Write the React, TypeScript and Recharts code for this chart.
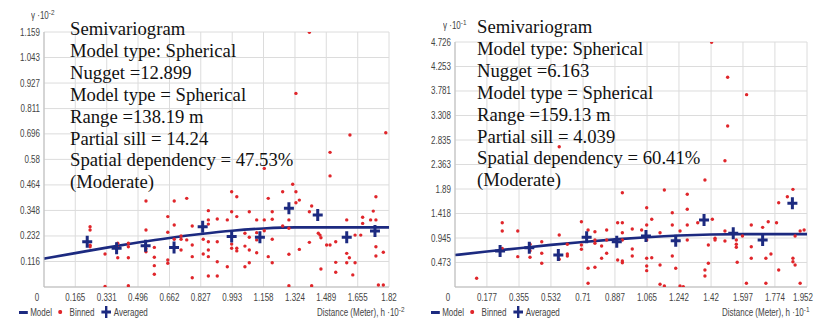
import React from "react";
import {
  ComposedChart,
  Line,
  Scatter,
  XAxis,
  YAxis,
  CartesianGrid,
} from "recharts";

// ---- left semivariogram (gamma x 10^-2, distance x 10^-2)
const leftXTicks = [0, 0.165, 0.331, 0.496, 0.662, 0.827, 0.993, 1.158, 1.324, 1.489, 1.655, 1.82];
const leftYTicks = [0, 0.116, 0.232, 0.348, 0.464, 0.58, 0.696, 0.811, 0.927, 1.043, 1.159];

const leftModel = [
  { x: 0, y: 0.129 }, { x: 0.165, y: 0.154 }, { x: 0.331, y: 0.179 }, { x: 0.496, y: 0.202 },
  { x: 0.662, y: 0.223 }, { x: 0.827, y: 0.241 }, { x: 0.993, y: 0.256 }, { x: 1.158, y: 0.266 },
  { x: 1.324, y: 0.271 }, { x: 1.489, y: 0.271 }, { x: 1.655, y: 0.271 }, { x: 1.82, y: 0.271 },
];

const leftAveraged = [
  { x: 0.228, y: 0.206 }, { x: 0.383, y: 0.176 }, { x: 0.536, y: 0.188 }, { x: 0.686, y: 0.18 },
  { x: 0.837, y: 0.274 }, { x: 0.99, y: 0.229 }, { x: 1.139, y: 0.226 }, { x: 1.292, y: 0.358 },
  { x: 1.444, y: 0.327 }, { x: 1.597, y: 0.226 }, { x: 1.746, y: 0.255 },
];

// [distance, gamma]
const leftBinned: [number, number][] = [
  [0.243, 0.274], [0.243, 0.259], [0.243, 0.19], [0.243, 0.183], [0.322, 0.15], [0.322, 0.002],
  [0.389, 0.199], [0.389, 0.18], [0.389, 0.133], [0.445, 0.199], [0.445, 0.183], [0.445, 0.133],
  [0.445, 0.006], [0.538, 0.391], [0.538, 0.259], [0.538, 0.174], [0.538, 0.16], [0.582, 0.18],
  [0.582, 0.135], [0.582, 0.097], [0.582, 0.058], [0.653, 0.32], [0.653, 0.249], [0.653, 0.123],
  [0.653, 0.108], [0.687, 0.391], [0.687, 0.282], [0.687, 0.217], [0.723, 0.232], [0.723, 0.217],
  [0.723, 0.168], [0.753, 0.403], [0.753, 0.214], [0.782, 0.277], [0.782, 0.191], [0.782, 0.138],
  [0.782, 0.042], [0.84, 0.217], [0.84, 0.15], [0.867, 0.347], [0.867, 0.305], [0.867, 0.286],
  [0.867, 0.206], [0.867, 0.168], [0.867, 0.138], [0.867, 0.05], [0.914, 0.309], [0.914, 0.206],
  [0.914, 0.115], [0.914, 0.05], [0.967, 0.305], [0.967, 0.092], [0.99, 0.433], [0.99, 0.342],
  [0.99, 0.195], [0.99, 0.176], [1.017, 0.41], [1.017, 0.32], [1.017, 0.176], [1.017, 0.164],
  [1.06, 0.244], [1.06, 0.186], [1.06, 0.092], [1.083, 0.342], [1.083, 0.226], [1.083, 0.168],
  [1.083, 0.11], [1.122, 0.305], [1.122, 0.247], [1.122, 0.214], [1.122, 0.156], [1.162, 0.539],
  [1.162, 0.305], [1.162, 0.256], [1.183, 0.403], [1.183, 0.138], [1.204, 0.342], [1.204, 0.308],
  [1.204, 0.217], [1.204, 0.11], [1.259, 0.433], [1.259, 0.277], [1.292, 0.305], [1.292, 0.267],
  [1.292, 0.149], [1.292, 0.006], [1.312, 0.467], [1.329, 0.88], [1.329, 0.433], [1.329, 0.383],
  [1.347, 0.395], [1.347, 0.171], [1.4, 1.158], [1.4, 0.342], [1.4, 0.203], [1.412, 0.368],
  [1.412, 0.006], [1.447, 0.244], [1.456, 0.236], [1.461, 0.224], [1.461, 0.082], [1.491, 0.191],
  [1.509, 0.612], [1.509, 0.505], [1.509, 0.191], [1.539, 0.206], [1.539, 0.112], [1.539, 0.067],
  [1.597, 0.305], [1.597, 0.153], [1.597, 0.11], [1.611, 0.133], [1.614, 0.691], [1.629, 0.055],
  [1.641, 0.236], [1.641, 0.11], [1.671, 0.236], [1.681, 0.317], [1.681, 0.289], [1.723, 0.305],
  [1.737, 0.345], [1.751, 0.41], [1.751, 0.305], [1.751, 0.183], [1.751, 0.141], [1.764, 0.009],
  [1.79, 0.158], [1.79, 0.009], [1.803, 0.701],
];

const leftNotes = [
  "Semivariogram",
  "Model type: Spherical",
  "Nugget =12.899",
  "Model type = Spherical",
  "Range =138.19 m",
  "Partial sill = 14.24",
  "Spatial dependency = 47.53%",
  "(Moderate)",
];

// ---- right semivariogram (gamma x 10^-1, distance x 10^-2)
const rightXTicks = [0, 0.177, 0.355, 0.532, 0.71, 0.887, 1.065, 1.242, 1.42, 1.597, 1.774, 1.952];
const rightYTicks = [0, 0.473, 0.945, 1.418, 1.89, 2.363, 2.835, 3.308, 3.781, 4.253, 4.726];

const rightModel = [
  { x: 0, y: 0.616 }, { x: 0.177, y: 0.684 }, { x: 0.355, y: 0.749 }, { x: 0.532, y: 0.812 },
  { x: 0.71, y: 0.869 }, { x: 0.887, y: 0.919 }, { x: 1.065, y: 0.961 }, { x: 1.242, y: 0.993 },
  { x: 1.42, y: 1.013 }, { x: 1.597, y: 1.02 }, { x: 1.774, y: 1.02 }, { x: 1.952, y: 1.02 },
];

const rightAveraged = [
  { x: 0.25, y: 0.694 }, { x: 0.412, y: 0.758 }, { x: 0.573, y: 0.617 }, { x: 0.73, y: 0.959 },
  { x: 0.897, y: 0.874 }, { x: 1.059, y: 0.984 }, { x: 1.224, y: 0.893 }, { x: 1.381, y: 1.292 },
  { x: 1.543, y: 1.036 }, { x: 1.706, y: 0.907 }, { x: 1.871, y: 1.615 },
];

const rightBinned: [number, number][] = [
  [0.12, 0.168], [0.262, 1.24], [0.262, 1.08], [0.262, 0.746], [0.348, 1.08], [0.348, 0.585],
  [0.416, 0.824], [0.416, 0.7], [0.416, 0.573], [0.481, 0.874], [0.481, 0.65], [0.481, 0.457],
  [0.578, 2.706], [0.578, 1.003], [0.578, 0.534], [0.623, 0.824], [0.623, 0.637], [0.623, 0.598],
  [0.701, 1.26], [0.701, 0.81], [0.701, 0.727], [0.738, 1.1], [0.738, 0.361], [0.738, 0.071],
  [0.776, 1.067], [0.776, 0.907], [0.776, 0.843], [0.776, 0.38], [0.813, 0.791], [0.813, 0.554],
  [0.841, 1.1], [0.841, 0.907], [0.841, 0.65], [0.902, 1.24], [0.902, 0.521], [0.928, 1.819],
  [0.928, 1.24], [0.928, 1.047], [0.928, 0.907], [0.928, 0.502], [0.928, 0.469], [0.983, 1.119],
  [0.983, 0.733], [0.983, 0.598], [1.035, 1.1], [1.063, 1.53], [1.063, 1.196], [1.063, 0.907],
  [1.063, 0.554], [1.063, 0.405], [1.063, 0.315], [1.091, 1.306], [1.091, 0.565], [1.137, 1.047],
  [1.137, 0.424], [1.137, 0.052], [1.161, 1.871], [1.161, 0.019], [1.205, 1.433], [1.205, 1.196],
  [1.205, 0.598], [1.224, 0.361], [1.248, 1.08], [1.248, 0.019], [1.266, 0.006], [1.288, 1.788],
  [1.288, 1.499], [1.288, 1.196], [1.288, 0.907], [1.346, 1.24], [1.386, 2.064], [1.386, 0.328],
  [1.386, 0.212], [1.405, 0.81], [1.405, 0.457], [1.423, 4.72], [1.427, 1.306], [1.442, 0.939],
  [1.442, 0.907], [1.497, 2.436], [1.497, 1.08], [1.497, 0.887], [1.512, 4.045], [1.512, 3.106],
  [1.56, 0.907], [1.56, 0.824], [1.56, 0.766], [1.565, 0.476], [1.594, 0.984], [1.616, 0.071],
  [1.617, 3.71], [1.643, 1.196], [1.643, 0.777], [1.643, 0.554], [1.706, 1.151], [1.724, 0.554],
  [1.724, 0.071], [1.737, 1.26], [1.752, 0.637], [1.783, 1.24], [1.795, 1.626], [1.795, 0.328],
  [1.843, 1.742], [1.874, 1.884], [1.874, 0.554], [1.874, 0.488], [1.886, 0.424], [1.886, 0.984],
  [1.914, 1.08], [1.914, 0.071], [1.936, 1.1],
];

const rightNotes = [
  "Semivariogram",
  "Model type: Spherical",
  "Nugget =6.163",
  "Model type = Spherical",
  "Range =159.13 m",
  "Partial sill = 4.039",
  "Spatial dependency = 60.41%",
  "(Moderate)",
];

const NAVY = "#1c2a80";
const RED = "#e0262b";
const TICK_FONT = "'Liberation Sans', Arial, sans-serif";
const SERIF = "'Liberation Serif', 'Times New Roman', serif";
const NARROW = 0.8;

const Dot = (p: any) => <circle cx={p.cx} cy={p.cy} r={1.7} fill={RED} />;
const Cross = (p: any) => (
  <path
    d={`M${p.cx - 5},${p.cy}H${p.cx + 5}M${p.cx},${p.cy - 6}V${p.cy + 6}`}
    stroke={NAVY}
    strokeWidth={3}
  />
);

const XTick = (p: any) => {
  const v = p.payload.value;
  // the right panel's last label sits on the picture's edge: pin it inside
  const last = v > 1.9;
  const x = v === 0 ? p.x - 7 : last ? p.x + 6 : p.x;
  return (
    <text
      transform={`translate(${x},${p.y + 10}) scale(${NARROW},1)`}
      dy="0.35em"
      textAnchor={last ? "end" : "middle"}
      fontSize={10}
      fontFamily={TICK_FONT}
      fill="#444"
    >
      {v}
    </text>
  );
};

const YTick = (p: any) =>
  p.payload.value === 0 ? null : (
    <text
      transform={`translate(${p.x - 4},${p.y}) scale(${NARROW},1)`}
      dy="0.35em"
      textAnchor="end"
      fontSize={10}
      fontFamily={TICK_FONT}
      fill="#444"
    >
      {p.payload.value}
    </text>
  );

interface PanelProps {
  left: number;
  width: number;
  top: number;
  rightMargin: number;
  xTicks: number[];
  yTicks: number[];
  model: { x: number; y: number }[];
  binned: [number, number][];
  averaged: { x: number; y: number }[];
}

const Panel: React.FC<PanelProps> = ({
  left, width, top, rightMargin, xTicks, yTicks, model, binned, averaged,
}) => {
  const pts = binned.map(([x, y]) => ({ x, y }));
  return (
    <div style={{ position: "absolute", left, top: 0 }}>
      <ComposedChart
        width={width}
        height={328}
        margin={{ top, right: rightMargin, left: 0, bottom: 21 }}
      >
        <CartesianGrid stroke="#dcdcdc" />
        <XAxis
          type="number"
          dataKey="x"
          domain={[xTicks[0], xTicks[xTicks.length - 1]]}
          ticks={xTicks}
          interval={0}
          height={20}
          tickSize={0}
          tickMargin={0}
          tick={<XTick />}
          stroke="#bdbdbd"
        />
        <YAxis
          type="number"
          dataKey="y"
          domain={[yTicks[0], yTicks[yTicks.length - 1]]}
          ticks={yTicks}
          interval={0}
          width={44}
          tickSize={0}
          tickMargin={0}
          tick={<YTick />}
          stroke="#bdbdbd"
          allowDataOverflow
        />
        <Line
          data={model}
          dataKey="y"
          type="monotone"
          stroke={NAVY}
          strokeWidth={2.6}
          dot={false}
          isAnimationActive={false}
        />
        <Scatter data={pts} shape={Dot} isAnimationActive={false} />
        <Scatter data={averaged} shape={Cross} isAnimationActive={false} />
      </ComposedChart>
    </div>
  );
};

const narrowStyle: React.CSSProperties = {
  position: "absolute",
  fontFamily: TICK_FONT,
  fontSize: 10,
  color: "#444",
  whiteSpace: "nowrap",
  transform: `scaleX(${NARROW})`,
  transformOrigin: "left center",
};

const Legend: React.FC<{ left: number }> = ({ left }) => (
  <div
    style={{
      ...narrowStyle,
      left,
      top: 305,
      height: 14,
      display: "flex",
      alignItems: "center",
    }}
  >
    <span style={{ width: 11, height: 3, background: NAVY, marginRight: 3 }} />
    <span>Model</span>
    <span style={{ width: 5, height: 4, borderRadius: 2, background: RED, margin: "0 9px 0 8px" }} />
    <span>Binned</span>
    <svg width={14} height={12} style={{ margin: "0 2px 0 8px" }}>
      <path d="M1,6H13M7,0V12" stroke={NAVY} strokeWidth={3} />
    </svg>
    <span>Averaged</span>
  </div>
);

const Notes: React.FC<{ left: number; top: number; lines: string[] }> = ({ left, top, lines }) => (
  <div
    style={{
      position: "absolute",
      left,
      top,
      fontFamily: SERIF,
      fontSize: 18.7,
      lineHeight: "21.9px",
      color: "#111",
      whiteSpace: "nowrap",
    }}
  >
    {lines.map((l) => (
      <div key={l}>{l}</div>
    ))}
  </div>
);

const Small: React.FC<{ left: number; top: number; text: string; exp: string }> = ({
  left, top, text, exp,
}) => (
  <div style={{ ...narrowStyle, left, top }}>
    {text}
    <sup style={{ fontSize: 8 }}>{exp}</sup>
  </div>
);

export default function App() {
  return (
    <div
      style={{
        position: "absolute",
        left: 0,
        top: 0,
        width: 814,
        height: 328,
        background: "#fff",
        overflow: "hidden",
      }}
    >
      <Panel
        left={0}
        width={400}
        top={32}
        rightMargin={11}
        xTicks={leftXTicks}
        yTicks={leftYTicks}
        model={leftModel}
        binned={leftBinned}
        averaged={leftAveraged}
      />
      <Panel
        left={411}
        width={403}
        top={42}
        rightMargin={7}
        xTicks={rightXTicks}
        yTicks={rightYTicks}
        model={rightModel}
        binned={rightBinned}
        averaged={rightAveraged}
      />
      <Notes left={70} top={18} lines={leftNotes} />
      <Notes left={477} top={16} lines={rightNotes} />
      <Small left={31} top={8} text="γ ·10" exp="-2" />
      <Small left={443} top={18} text="γ ·10" exp="-1" />
      <Legend left={19} />
      <Legend left={431} />
      <Small left={317} top={305} text="Distance (Meter), h ·10" exp="-2" />
      <Small left={722} top={305} text="Distance (Meter), h ·10" exp="-1" />
    </div>
  );
}
